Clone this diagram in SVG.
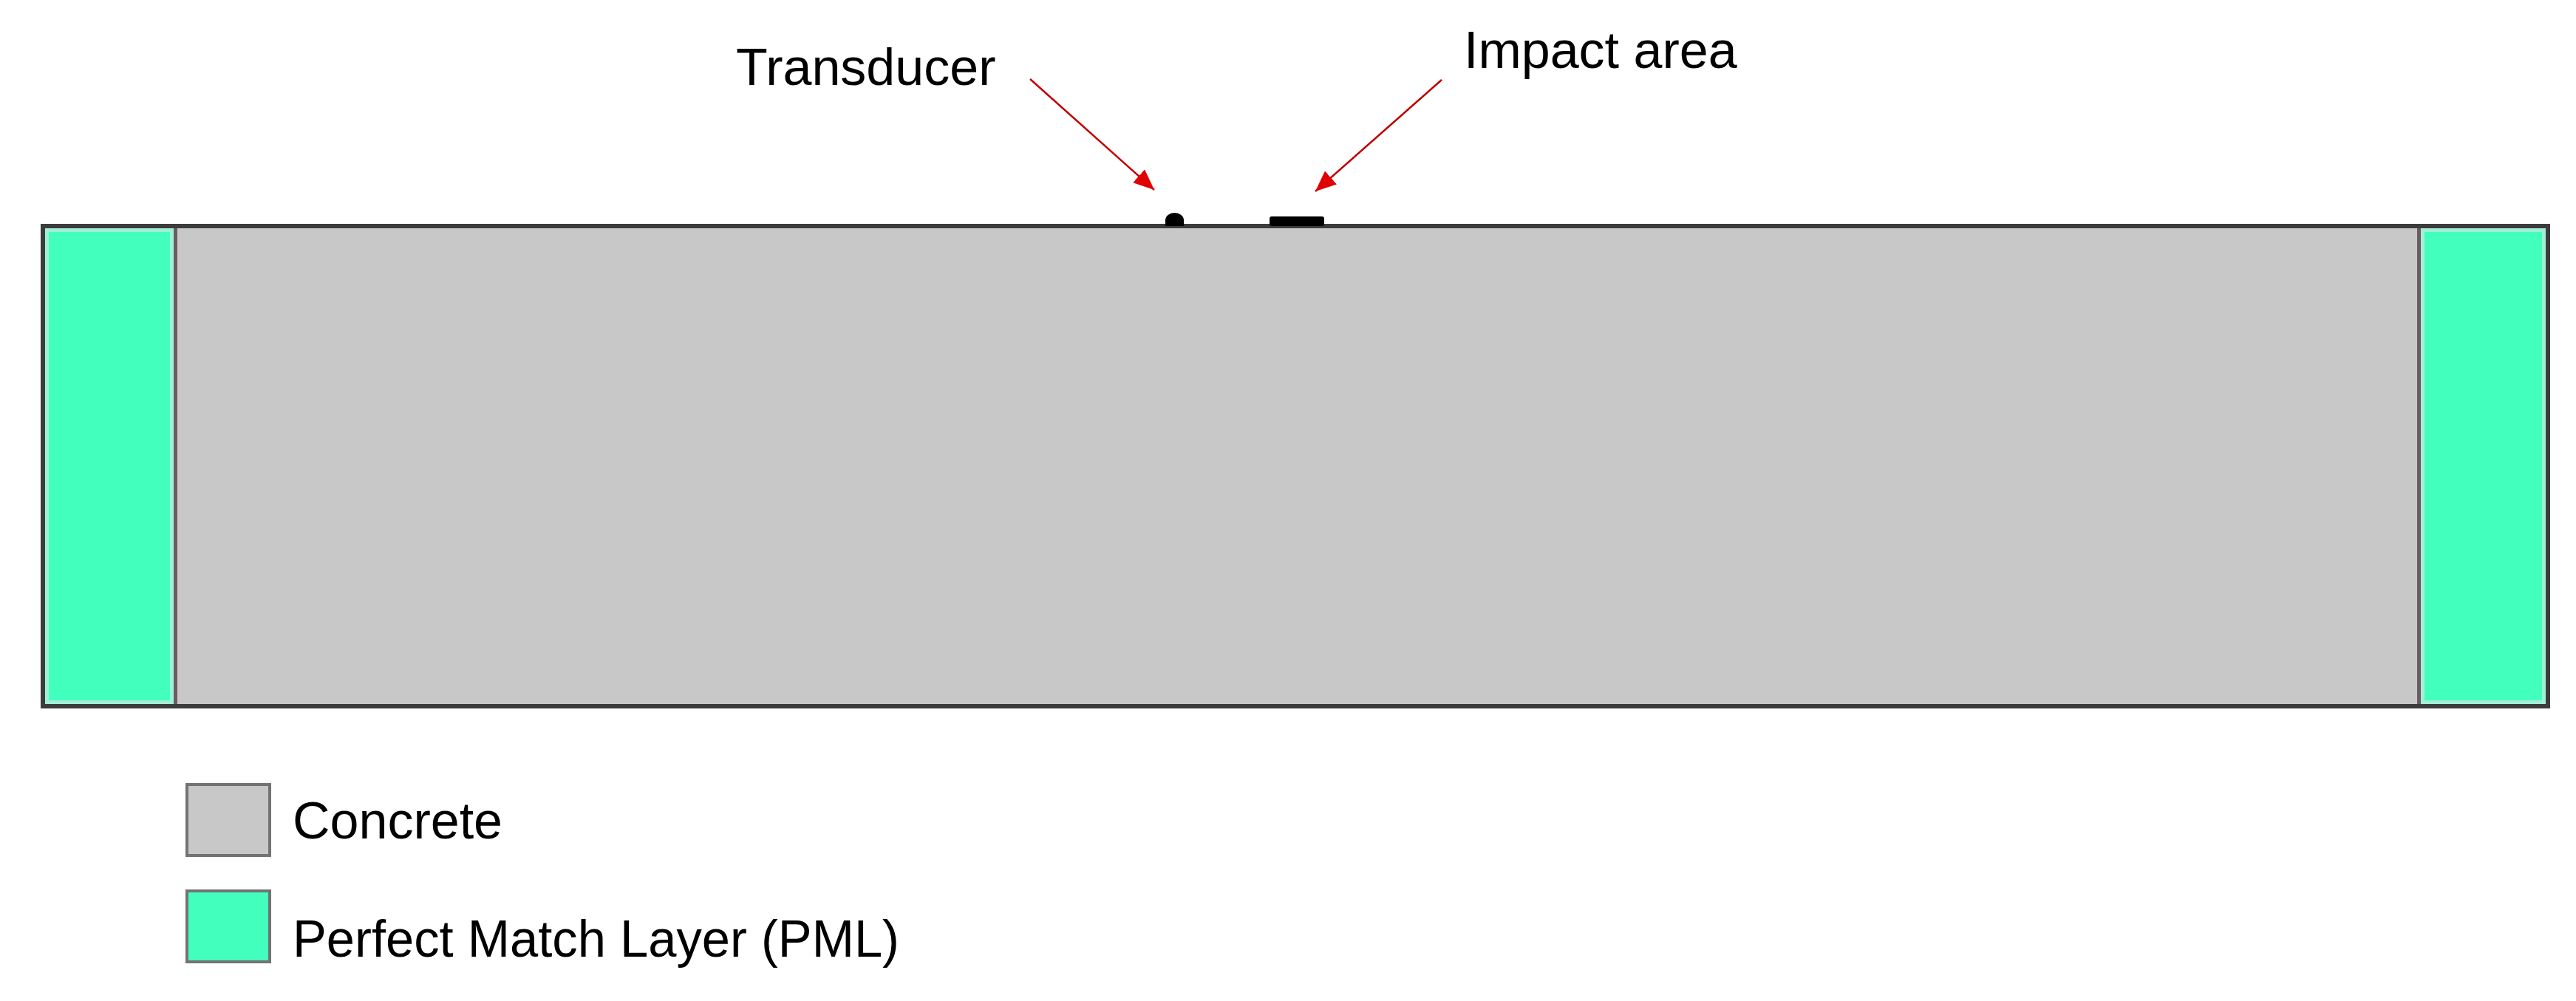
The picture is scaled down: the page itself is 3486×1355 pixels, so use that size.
<svg xmlns="http://www.w3.org/2000/svg" width="3486" height="1355" viewBox="0 0 3486 1355">
<style>
.lbl{font-family:"Liberation Sans",Arial,sans-serif;font-size:70px;fill:#000}
.pml{fill:#42FFBE}
.pmlEdge{fill:#A2EFD8}
.conc{fill:#C8C8C8}
.div{fill:#6B5B63}
.arrow{stroke:#C00000;stroke-width:2.5;fill:none}
.leg{stroke:#737373;stroke-width:4}
</style>
<defs>
<marker id="ah" markerUnits="userSpaceOnUse" markerWidth="30" markerHeight="24" refX="28" refY="12" orient="auto">
<path d="M0,0 L28,12 L0,24 Z" fill="#E00000"/>
</marker>
</defs>
<rect width="3486" height="1355" fill="#fff"/>
<g id="model">
<rect class="conc" x="240" y="309" width="3033" height="644"/>
<g id="pml-left">
<rect class="pmlEdge" x="61" y="309" width="174" height="644"/>
<rect class="pml" x="66" y="314" width="164" height="634"/>
</g>
<g id="pml-right">
<rect class="pmlEdge" x="3276" y="309" width="169" height="644"/>
<rect class="pml" x="3281" y="314" width="159" height="634"/>
</g>
<rect class="div" x="235" y="309" width="5" height="644"/>
<rect class="div" x="3271" y="309" width="5" height="644"/>
<rect x="58" y="306" width="3390" height="650" fill="none" stroke="#3C3C3C" stroke-width="6"/>
</g>
<g id="transducer">
<path d="M1577,306 L1577,298 A12.5,10 0 0 1 1602,298 L1602,306 Z" fill="#000"/>
<text class="lbl" x="996" y="115">Transducer</text>
</g>
<g id="impact">
<rect x="1718" y="293" width="74" height="13" rx="3" fill="#000"/>
<text class="lbl" x="1981" y="92">Impact area</text>
</g>
<g id="connectors">
<line class="arrow" x1="1394" y1="107" x2="1562" y2="257" marker-end="url(#ah)"/>
<line class="arrow" x1="1951" y1="108" x2="1780" y2="259" marker-end="url(#ah)"/>
</g>
<g id="legend-concrete">
<rect class="conc leg" x="253" y="1062" width="112" height="96"/>
<text class="lbl" x="396" y="1135">Concrete</text>
</g>
<g id="legend-pml">
<rect class="pml leg" x="253" y="1206" width="112" height="96"/>
<text class="lbl" x="396" y="1295" textLength="821" lengthAdjust="spacingAndGlyphs">Perfect Match Layer (PML)</text>
</g>
</svg>
